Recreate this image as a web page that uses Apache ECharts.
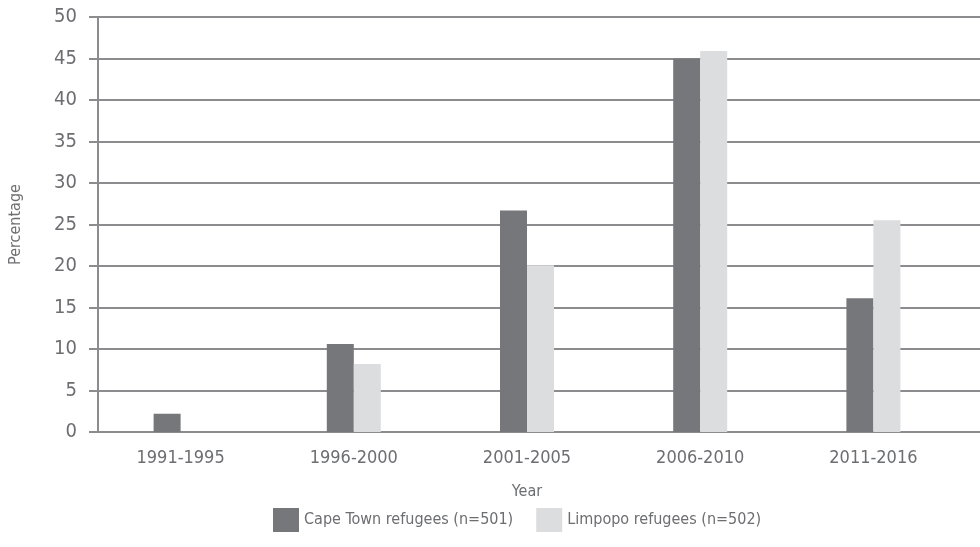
<!DOCTYPE html>
<html>
<head>
<meta charset="utf-8">
<style>
  html, body { margin: 0; padding: 0; background: #ffffff; }
  #chart { width: 980px; height: 547px; }
</style>
<script src="https://cdn.jsdelivr.net/npm/echarts@6/dist/echarts.min.js"></script>
</head>
<body>
<div id="chart"></div>
<script>
// Period of arrival
const years = ['1991-1995', '1996-2000', '2001-2005', '2006-2010', '2011-2016'];
// Share of respondents (%) arriving in each period
const capeTown = [2.2, 10.6, 26.7, 45.0, 16.1];
const limpopo = [0, 8.2, 20.1, 45.9, 25.5];
const seriesNames = ['Cape Town refugees (n=501)', 'Limpopo refugees (n=502)'];

const FONT = "'DejaVu Sans Condensed', 'DejaVu Sans', sans-serif";
const TEXT = '#6d6e71';
const GRID = '#8c8c8e';

const chart = echarts.init(document.getElementById('chart'), null, { renderer: 'canvas' });

chart.setOption({
  animation: false,
  backgroundColor: '#ffffff',
  textStyle: { fontFamily: FONT, color: TEXT },
  grid: [
    // frame for the percentage scale; its gridlines run to the right edge
    { left: 93, right: 0, top: 17, bottom: 115, containLabel: false },
    // bars
    { left: 94, right: 20, top: 17, bottom: 115, containLabel: false }
  ],
  legend: {
    data: seriesNames,
    bottom: 10,
    left: 268,
    itemWidth: 26,
    itemHeight: 24,
    itemGap: 23,
    icon: 'rect',
    textStyle: { fontFamily: FONT, fontSize: 16, color: TEXT, padding: [0, 0, 0, 0] }
  },
  xAxis: [
    { gridIndex: 0, type: 'value', show: false, min: 0, max: 1 },
    {
      gridIndex: 1,
      type: 'category',
      data: years,
      name: 'Year',
      nameLocation: 'middle',
      nameGap: 52,
      nameTextStyle: { fontFamily: FONT, fontSize: 16, color: TEXT },
      axisLine: { show: false },
      axisTick: { show: false },
      axisLabel: { fontFamily: FONT, fontSize: 18, color: TEXT, margin: 17 }
    }
  ],
  yAxis: [
    {
      gridIndex: 0,
      type: 'value',
      min: 0,
      max: 50,
      interval: 5,
      name: 'Percentage',
      nameLocation: 'middle',
      nameGap: 74,
      nameTextStyle: { fontFamily: FONT, fontSize: 16, color: TEXT },
      axisLine: { show: true, lineStyle: { color: GRID, width: 2 } },
      axisTick: { show: true, length: 9, lineStyle: { color: GRID, width: 2 } },
      axisLabel: { fontFamily: FONT, fontSize: 20, color: TEXT, margin: 21 },
      splitLine: { show: true, lineStyle: { color: GRID, width: 2 } }
    },
    {
      gridIndex: 1,
      type: 'value',
      min: 0,
      max: 50,
      interval: 5,
      show: false
    }
  ],
  series: [
    {
      name: seriesNames[0],
      type: 'bar',
      xAxisIndex: 1,
      yAxisIndex: 1,
      data: capeTown,
      barWidth: 27,
      barGap: '0%',
      itemStyle: { color: '#76777b' }
    },
    {
      name: seriesNames[1],
      type: 'bar',
      xAxisIndex: 1,
      yAxisIndex: 1,
      data: limpopo,
      barWidth: 27,
      barGap: '0%',
      itemStyle: { color: '#dcdddf' }
    }
  ]
});
</script>
</body>
</html>
